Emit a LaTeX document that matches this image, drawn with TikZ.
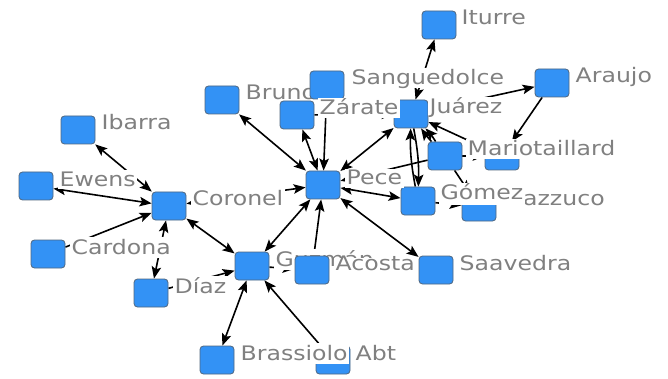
\documentclass[tikz,border=0pt]{standalone}
\usepackage{fontspec}
\newfontfamily\lblfont[FakeStretch=1.18]{DejaVu Sans}
\usetikzlibrary{arrows.meta}
\pgfdeclarelayer{back}
\pgfdeclarelayer{edges}
\pgfsetlayers{back,edges,main}
\definecolor{nodeblue}{RGB}{51,146,245}
\definecolor{nodeline}{RGB}{80,103,127}
\definecolor{lblgray}{RGB}{128,128,128}
\tikzset{
  nd/.style={rectangle, minimum width=34pt, minimum height=28pt, rounded corners=3.5pt,
    fill=nodeblue, draw=nodeline, line width=0.8pt, inner sep=0pt},
  lb/.style={anchor=base west, fill=white, inner sep=1.5pt, text=lblgray, text depth=0.2em,
    font=\lblfont\fontsize{20}{20}\selectfont},
  ed/.style={line width=1.6pt, black},
  tip/.tip={Stealth[length=12pt,width=9.5pt,inset=2.5pt]},
  one/.style={ed, -tip},
  two/.style={ed, tip-tip}
}
\begin{document}
\begin{tikzpicture}[x=1pt,y=-1pt]
\begin{pgfonlayer}{back}
\fill[white] (0,0) rectangle (668,379);
\end{pgfonlayer}
\useasboundingbox (0,0) rectangle (668,379);

% nodes and labels (drawing order matters for overlaps)
\node[nd] (iturre) at (439,25) {};
\node[lb] (iturreL) at (460,25) {Iturre};
\node[nd] (araujo) at (552,83) {};
\node[lb] (araujoL) at (574,83) {Araujo};
\node[nd] (bruno) at (222,100) {};
\node[lb] (brunoL) at (244,100) {Bruno};
\node[nd] (juarez) at (411,114) {};
\node[lb] (juarezL) at (428,114) {Juárez};
\node[nd] (sangue) at (327,85) {};
\node[lb] (sangueL) at (350,85) {Sanguedolce};
\node[nd] (zarate) at (297,115) {};
\node[lb] (zarateL) at (318,115) {Zárate};
\node[nd] (hidden) at (502,156) {};
\node[nd] (mario) at (445,156) {};
\node[lb] (marioL) at (466,156) {Mariotaillard};
\node[nd] (mazz) at (479,207) {};
\node[lb] (mazzL) at (501,205) {Mazzuco};
\node[nd] (gomez) at (418,201) {};
\node[lb, text depth=0.4em] (gomezL) at (439,200) {Gómez};
\node[nd] (pece) at (323,185) {};
\node[lb] (peceL) at (345,185) {Pece};
\node[nd] (ibarra) at (78,130) {};
\node[lb] (ibarraL) at (100,130) {Ibarra};
\node[nd] (ewens) at (36,186) {};
\node[lb] (ewensL) at (58,186) {Ewens};
\node[nd] (cardona) at (48,254) {};
\node[lb] (cardonaL) at (70,254) {Cardona};
\node[nd] (coronel) at (169,206) {};
\node[lb] (coronelL) at (191,206) {Coronel};
\node[nd] (diaz) at (151,293) {};
\node[lb] (diazL) at (173,293) {Díaz};
\node[nd] (guzman) at (252,266) {};
\node[lb] (guzmanL) at (274,266) {Guzmán};
\node[nd] (acosta) at (312,270) {};
\node[lb, text height=1.05em] (acostaL) at (334,270) {Acosta};
\node[nd] (saavedra) at (436,270) {};
\node[lb] (saavedraL) at (458,270) {Saavedra};
\node[nd] (abt) at (333,360) {};
\node[lb] (abtL) at (354,360) {Abt};
\node[nd] (brass) at (217,360) {};
\node[lb] (brassL) at (239,360) {Brassiolo};

\begin{pgfonlayer}{edges}
\draw[two] (juarez) -- (iturre);
\draw[one] (juarez) -- (araujo);
\draw[one] (araujo) -- (hidden);
\draw[two] (bruno) -- (pece);
\draw[two] (zarate) -- (pece);
\draw[one] (sangue) -- (pece);
\draw[one] (zarate) -- (juarez);
\draw[two] (pece) -- (juarez);
\draw[two] (coronel) -- (pece);
\draw[two] (pece) -- (gomez);
\draw[one] (juarez) to[bend left=6] (gomez);
\draw[one] (gomez) to[bend left=6] (juarez);
\draw[one] (mario) to[bend left=4] (juarez);
\draw[one] (mario) to[bend right=6] (juarez);
\draw[one] (hidden) -- (juarez);
\draw[one] (mario) -- (pece);
\draw[one] (mario) -- (hidden);
\draw[one] (mario) -- (mazz);
\draw[one] (gomez) -- (mazz);
\draw[two] (saavedra) -- (pece);
\draw[one] (acosta) -- (pece);
\draw[two] (coronel) -- (guzman);
\draw[two] (pece) -- (guzman);
\draw[one] (guzman) -- (acosta);
\draw[two] (guzman) -- (brass);
\draw[one] (abt) -- (guzman);
\draw[one] (diaz) -- (guzman);
\draw[two] (coronel) -- (diaz);
\draw[one] (cardona) -- (coronel);
\draw[two] (ewens) -- (coronel);
\draw[two] (ibarra) -- (coronel);
\end{pgfonlayer}
\end{tikzpicture}
\end{document}
